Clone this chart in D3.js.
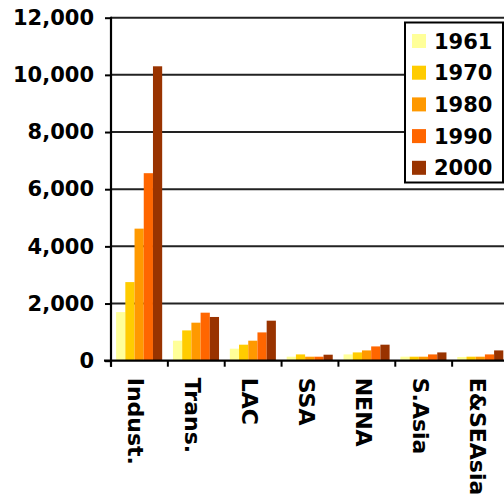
<!DOCTYPE html>
<html>
<head>
<meta charset="utf-8">
<script src="https://cdn.jsdelivr.net/npm/d3@7"></script>
<style>
  body { margin: 0; background: #fff; }
  svg { display: block; }
  text { font-family: "DejaVu Sans", Verdana, sans-serif; font-weight: bold; fill: #000; }
</style>
</head>
<body>
<div id="chart"></div>
<script>
var regions = ["Indust.", "Trans.", "LAC", "SSA", "NENA", "S.Asia", "E&SEAsia"]
var years = ["1961", "1970", "1980", "1990", "2000"]
var colors = ["#FFFF99", "#FFCC00", "#FF9900", "#FF6600", "#993300"]

// one array per year, in region order
var v1961 = [1700, 700, 420, 140, 220, 140, 130]
var v1970 = [2750, 1060, 560, 220, 290, 140, 140]
var v1980 = [4620, 1330, 700, 140, 360, 140, 140]
var v1990 = [6560, 1680, 990, 140, 500, 220, 220]
var v2000 = [10300, 1530, 1400, 210, 560, 290, 360]
var series = [v1961, v1970, v1980, v1990, v2000]

var yTicks = [0, 2000, 4000, 6000, 8000, 10000, 12000]

var width = 504,
    height = 497;

var svg = d3.select("#chart").append("svg")
    .attr("width", width)
    .attr("height", height)

var x0 = d3.scaleBand().domain(regions).range([111, 509]).padding(0)
var bw = x0.bandwidth()
var x1 = d3.scaleBand().domain(years).range([bw * 0.09, bw * 0.9])
var y = d3.scaleLinear().domain([0, 12000]).range([360.7, 17.7])

// gridlines
svg.append("g").selectAll("line")
    .data(yTicks.slice(1))
    .join("line")
    .attr("x1", 111).attr("x2", width)
    .attr("y1", function(d) { return y(d) })
    .attr("y2", function(d) { return y(d) })
    .attr("stroke", "#222")
    .attr("stroke-width", 2)

// bars
var groups = svg.append("g").selectAll("g")
    .data(regions)
    .join("g")
    .attr("transform", function(d) { return "translate(" + x0(d) + ",0)" })

groups.selectAll("rect")
    .data(function(d, i) {
        return years.map(function(yr, j) { return { year: yr, k: j, value: series[j][i] } })
    })
    .join("rect")
    .attr("x", function(d) { return x1(d.year) })
    .attr("width", x1.bandwidth())
    .attr("y", function(d) { return y(d.value) })
    .attr("height", function(d) { return y(0) - y(d.value) })
    .attr("fill", function(d) { return colors[d.k] })

// y axis
var yAxis = svg.append("g")
    .attr("transform", "translate(111,0)")
    .call(d3.axisLeft(y).tickValues(yTicks).tickSize(6).tickPadding(11).tickFormat(d3.format(",")))
yAxis.select(".domain").remove()
yAxis.selectAll(".tick line").attr("stroke", "#000").attr("stroke-width", 2)
yAxis.selectAll("text").style("font-size", "21px")

// x axis
var xAxis = svg.append("g")
    .attr("transform", "translate(0," + y(0) + ")")
xAxis.selectAll("line")
    .data(regions)
    .join("line")
    .attr("x1", function(d) { return x0(d) })
    .attr("x2", function(d) { return x0(d) })
    .attr("y1", 0).attr("y2", 6)
    .attr("stroke", "#000").attr("stroke-width", 2)

xAxis.selectAll("text")
    .data(regions)
    .join("text")
    .attr("transform", function(d) { return "translate(" + (x0(d) + bw / 2) + ",17) rotate(90)" })
    .attr("dy", "0.5em")
    .style("font-size", "22px")
    .text(function(d) { return d })

// axis lines
svg.append("line")
    .attr("x1", 104).attr("x2", width)
    .attr("y1", y(0)).attr("y2", y(0))
    .attr("stroke", "#000").attr("stroke-width", 2.2)
svg.append("line")
    .attr("x1", 111).attr("x2", 111)
    .attr("y1", y(12000) - 1).attr("y2", y(0) + 6)
    .attr("stroke", "#000").attr("stroke-width", 2.2)

// legend
var legend = svg.append("g")
legend.append("rect")
    .attr("x", 405).attr("y", 22.5)
    .attr("width", 98).attr("height", 160)
    .attr("fill", "#fff")
    .attr("stroke", "#000").attr("stroke-width", 2)

var items = legend.selectAll("g.item")
    .data(years)
    .join("g")
    .attr("class", "item")
    .attr("transform", function(d, i) { return "translate(0," + (41 + i * 31.7) + ")" })

items.append("rect")
    .attr("x", 412).attr("y", -7)
    .attr("width", 14).attr("height", 14)
    .attr("fill", function(d, i) { return colors[i] })

items.append("text")
    .attr("x", 434).attr("y", 7.5)
    .style("font-size", "21px")
    .text(function(d) { return d })
</script>
</body>
</html>
